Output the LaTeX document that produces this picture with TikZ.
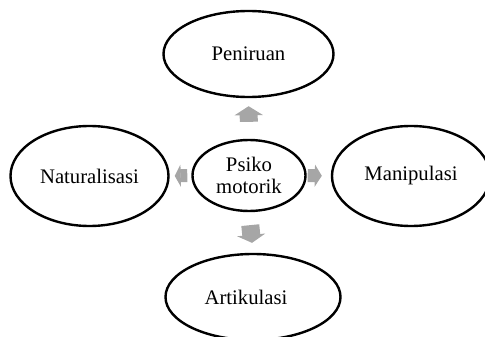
\documentclass[tikz,border=0pt]{standalone}
\usepackage{fontspec}
\setmainfont{Liberation Serif}
\usetikzlibrary{arrows.meta,shapes.geometric}

\definecolor{arrowgray}{RGB}{166,166,166}

\begin{document}
\begin{tikzpicture}[x=1pt,y=-1pt,
    stage/.style={ellipse,draw,line width=2.4pt,inner sep=0pt,
      font=\fontsize{20.7}{22}\selectfont,align=center},
    blockarrow/.style={arrowgray,line width=#1}]
  \useasboundingbox (0,0) rectangle (485,337);

  % Centre and the four stages
  \node[stage,minimum width=113pt,minimum height=71pt] (psiko) at (249,175.5) {Psiko\\motorik};
  \node[stage,minimum width=170pt,minimum height=86pt] (peniruan) at (248.5,54) {Peniruan};
  \node[stage,minimum width=158pt,minimum height=100pt] (natural) at (89.5,176) {Naturalisasi};
  \node[stage,minimum width=158pt,minimum height=100pt] (manipulasi) at (411,176) {Manipulasi};
  \node[stage,minimum width=175pt,minimum height=86pt] (artikulasi) at (253,297) {\hspace*{-14pt}Artikulasi};

  % Gray block arrows out of the centre
  \draw[blockarrow=18pt,-{Triangle[length=9pt,width=28pt]},shorten <=17pt,shorten >=8pt]
    (psiko.north) -- (peniruan.south);
  \draw[blockarrow=18pt,-{Triangle[length=8pt,width=28pt]},shorten <=13pt,shorten >=10pt]
    (psiko.south) -- (artikulasi.north);
  \draw[blockarrow=13pt,-{Triangle[length=6pt,width=22pt]},shorten <=4pt,shorten >=5pt]
    (psiko.west) -- (natural.east);
  \draw[blockarrow=13pt,-{Triangle[length=7pt,width=22pt]},shorten <=1pt,shorten >=9pt]
    (psiko.east) -- (manipulasi.west);
\end{tikzpicture}
\end{document}
